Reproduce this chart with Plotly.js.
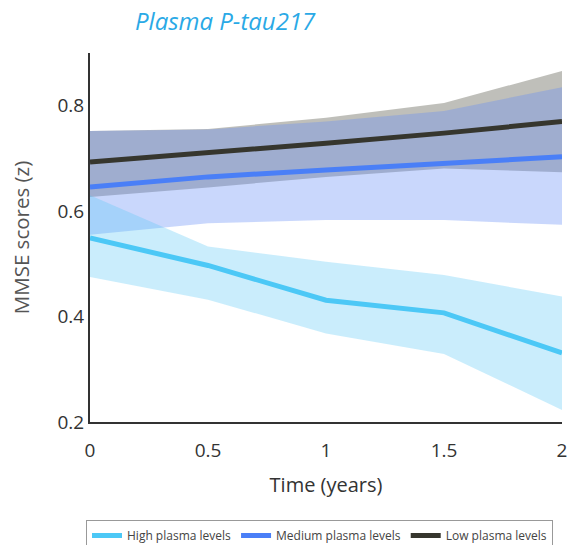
<!DOCTYPE html>
<html>
<head>
<meta charset="utf-8">
<script src="https://cdn.plot.ly/plotly-3.0.1.min.js"></script>
<style>html,body{margin:0;padding:0;background:#fff;}#chart{width:578px;height:545px;}</style>
</head>
<body>
<div id="chart"></div>
<script>
const time = [0, 0.5, 1, 1.5, 2];

const highMean  = [0.549, 0.497, 0.431, 0.407, 0.331];
const highUpper = [0.630, 0.533, 0.504, 0.479, 0.438];
const highLower = [0.475, 0.432, 0.368, 0.329, 0.223];

const medMean  = [0.646, 0.665, 0.678, 0.691, 0.703];
const medUpper = [0.752, 0.755, 0.770, 0.790, 0.835];
const medLower = [0.555, 0.577, 0.583, 0.583, 0.574];

const lowMean  = [0.693, 0.710, 0.729, 0.748, 0.770];
const lowUpper = [0.752, 0.756, 0.777, 0.805, 0.866];
const lowLower = [0.627, 0.645, 0.665, 0.681, 0.674];

const names = ['High plasma levels', 'Medium plasma levels', 'Low plasma levels'];

function band(lower, upper, fillcolor) {
  return [
    {x: time, y: lower, mode: 'lines', line: {width: 0, color: 'rgba(0,0,0,0)'}, showlegend: false, hoverinfo: 'skip'},
    {x: time, y: upper, mode: 'lines', line: {width: 0, color: 'rgba(0,0,0,0)'}, fill: 'tonexty', fillcolor: fillcolor, showlegend: false, hoverinfo: 'skip'}
  ];
}

const data = [
  ...band(lowLower, lowUpper, 'rgba(128,128,118,0.5)'),
  ...band(medLower, medUpper, 'rgba(100,140,245,0.35)'),
  ...band(highLower, highUpper, 'rgba(90,200,245,0.32)'),
  {x: time, y: highMean, mode: 'lines', name: names[0], line: {color: '#4cc8f6', width: 5}},
  {x: time, y: medMean, mode: 'lines', name: names[1], line: {color: '#4a7ff7', width: 5}},
  {x: time, y: lowMean, mode: 'lines', name: names[2], line: {color: '#36362e', width: 5}}
];

const layout = {
  width: 578, height: 545,
  margin: {l: 90, r: 16, t: 53, b: 123, autoexpand: false},
  paper_bgcolor: '#ffffff', plot_bgcolor: '#ffffff',
  font: {family: 'Open Sans, Noto Sans, sans-serif', color: '#333'},
  title: {text: '<i>Plasma P-tau217</i>', font: {size: 24, color: '#2aa9e6', family: 'Open Sans, sans-serif'},
          x: 135/578, xref: 'container', xanchor: 'left', y: 1 - 22/545, yref: 'container', yanchor: 'middle'},
  xaxis: {
    range: [0, 2], tickvals: [0, 0.5, 1, 1.5, 2], ticktext: ['0', '0.5', '1', '1.5', '2'],
    showgrid: false, zeroline: false, showline: true, linecolor: '#333', linewidth: 2,
    ticks: '', ticklabelstandoff: 10, tickfont: {size: 19, color: '#333'},
    title: {text: 'Time (years)', font: {size: 20, color: '#333'}, standoff: 16}
  },
  yaxis: {
    range: [0.2, 0.9], tickvals: [0.2, 0.4, 0.6, 0.8], ticktext: ['0.2', '0.4', '0.6', '0.8'],
    showgrid: false, zeroline: false, showline: true, linecolor: '#333', linewidth: 2,
    ticks: '', tickfont: {size: 19, color: '#333'},
    title: {text: 'MMSE scores (z)', font: {size: 20.5, color: '#555'}, standoff: 22}
  },
  legend: {
    orientation: 'h', x: 86/578, xref: 'container', xanchor: 'left', y: 25/545, yref: 'container', yanchor: 'top',
    traceorder: 'normal', itemwidth: 30,
    bordercolor: '#999', borderwidth: 1, bgcolor: '#fff',
    font: {size: 12, color: '#444'}
  },
  showlegend: true
};

Plotly.newPlot('chart', data, layout, {displayModeBar: false, staticPlot: true});
</script>
</body>
</html>
